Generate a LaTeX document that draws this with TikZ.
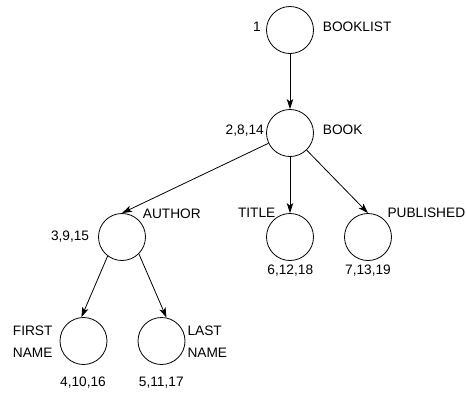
\documentclass[tikz,border=0pt]{standalone}
\usepackage{fontspec}
\setmainfont{Liberation Sans}
\usetikzlibrary{arrows.meta}
\begin{document}
\begin{tikzpicture}[x=1pt,y=-1pt,
  elem/.style={circle,draw,line width=0.8pt,minimum size=47pt,inner sep=0pt},
  lbl/.style={inner sep=0pt,font=\fontsize{13.7}{14}\selectfont},
  arr/.style={line width=0.8pt,-{Stealth[length=10pt,width=6.5pt,inset=2.5pt]}}]
\useasboundingbox (0,0) rectangle (467,392);
\node[elem] (booklist) at (290,30) {};
\node[elem] (book) at (290,133) {};
\node[elem] (author) at (122,237) {};
\node[elem] (title) at (290,237) {};
\node[elem] (published) at (368,237) {};
\node[elem] (first) at (83.5,341) {};
\node[elem] (last) at (161.5,341) {};
% labels
\node[lbl,anchor=base east] (l1) at (261,31.7) {1};
\node[lbl,anchor=base west] (lbooklist) at (322.7,31.7) {BOOKLIST};
\node[lbl,anchor=base east] (l2) at (264,134) {2,8,14};
\node[lbl,anchor=base west] (lbook) at (322.7,134) {BOOK};
\node[lbl,anchor=base west] (lauthor) at (142.7,218) {AUTHOR};
\node[lbl,anchor=base east] (l3) at (89.3,240) {3,9,15};
\node[lbl,anchor=base east] (ltitle) at (275.5,217) {TITLE};
\node[lbl,anchor=base west] (lpub) at (387.3,217) {PUBLISHED};
\node[lbl,anchor=base] (l6) at (290.3,274) {6,12,18};
\node[lbl,anchor=base] (l7) at (368,274) {7,13,19};
\node[lbl,anchor=base west] (lfirst) at (12.7,335) {FIRST};
\node[lbl,anchor=base west] (lfname) at (12.7,357.7) {NAME};
\node[lbl,anchor=base west] (llast) at (187.3,335) {LAST};
\node[lbl,anchor=base west] (llname) at (187.3,357.7) {NAME};
\node[lbl,anchor=base] (l4) at (83,386.7) {4,10,16};
\node[lbl,anchor=base] (l5) at (161.3,386.7) {5,11,17};
% connectors
\draw[arr] (booklist) -- (book);
\draw[arr] (book) -- (author.north);
\draw[arr] (book) -- (title);
\draw[arr] (book) -- (published.north);
\draw[arr] (author.233) -- (first.95);
\draw[arr] (author.-45) -- (last.78);
\end{tikzpicture}
\end{document}
